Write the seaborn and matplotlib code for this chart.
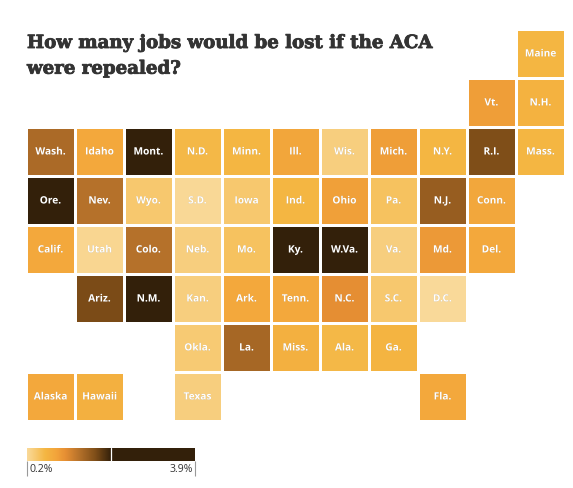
"""Tile grid map: jobs lost by state if the ACA were repealed."""

import matplotlib
matplotlib.use("Agg")
import matplotlib.patheffects as pe
import matplotlib.pyplot as plt
from matplotlib.colors import LinearSegmentedColormap
import numpy as np
import pandas as pd
import seaborn as sns

# Grid rows, north to south; None marks an empty tile
LABELS_ROWS = [
    [None, None, None, None, None, None, None, None, None, None, "Maine"],
    [None, None, None, None, None, None, None, None, None, "Vt.", "N.H."],
    ["Wash.", "Idaho", "Mont.", "N.D.", "Minn.", "Ill.", "Wis.", "Mich.", "N.Y.", "R.I.", "Mass."],
    ["Ore.", "Nev.", "Wyo.", "S.D.", "Iowa", "Ind.", "Ohio", "Pa.", "N.J.", "Conn.", None],
    ["Calif.", "Utah", "Colo.", "Neb.", "Mo.", "Ky.", "W.Va.", "Va.", "Md.", "Del.", None],
    [None, "Ariz.", "N.M.", "Kan.", "Ark.", "Tenn.", "N.C.", "S.C.", "D.C.", None, None],
    [None, None, None, "Okla.", "La.", "Miss.", "Ala.", "Ga.", None, None, None],
    ["Alaska", "Hawaii", None, "Texas", None, None, None, None, "Fla.", None, None],
]
VALUES_ROWS = [
    [None, None, None, None, None, None, None, None, None, None, 0.60],
    [None, None, None, None, None, None, None, None, None, 0.90, 0.65],
    [1.42, 0.78, 2.60, 0.58, 0.60, 0.82, 0.33, 0.90, 0.60, 1.70, 0.60],
    [3.00, 1.35, 0.40, 0.22, 0.40, 0.60, 0.88, 0.47, 1.55, 0.80, None],
    [0.78, 0.24, 1.35, 0.33, 0.47, 2.40, 3.90, 0.33, 0.95, 0.78, None],
    [None, 1.72, 2.80, 0.33, 0.78, 0.78, 1.05, 0.40, 0.20, None, None],
    [None, None, None, 0.38, 1.45, 0.68, 0.58, 0.62, None, None, None],
    [0.78, 0.68, None, 0.33, None, None, None, None, 0.78, None, None],
]
TITLE = "How many jobs would be lost if the ACA\nwere repealed?"
COLOR_VALUES = [0.2, 0.6, 0.85, 1.05, 1.35, 1.7, 2.05, 3.9]
COLOR_HEX = ["#F9D999", "#F4B642", "#F2A33A", "#E58E33", "#B5712A", "#7F4E18", "#33200A", "#33200A"]
LEGEND_TICKS = [0.2, 3.9]
LEGEND_TICK_LABELS = ["0.2%", "3.9%"]

W, H = 573, 489
PITCH = 49


def px_axes(fig, x0, y0, x1, y1):
    """Axes from pixel box, y measured from the top."""
    return fig.add_axes([x0 / W, 1 - y1 / H, (x1 - x0) / W, (y1 - y0) / H])


sns.set_theme(style="white")
plt.rcParams["font.family"] = ["Open Sans", "DejaVu Sans"]

fig = plt.figure(figsize=(W / 100, H / 100), dpi=100, facecolor="white")

valores = pd.DataFrame(VALUES_ROWS, dtype=float)
rotulos = pd.DataFrame(LABELS_ROWS).fillna("")
vmin, vmax = COLOR_VALUES[0], COLOR_VALUES[-1]
cmap = LinearSegmentedColormap.from_list(
    "aca", [((v - vmin) / (vmax - vmin), c) for v, c in zip(COLOR_VALUES, COLOR_HEX)], N=512
)

ax = px_axes(fig, 26, 30, 26 + 11 * PITCH, 30 + 8 * PITCH)
cax = px_axes(fig, 27, 449, 195, 462)

sns.heatmap(
    valores, ax=ax, cmap=cmap, vmin=vmin, vmax=vmax, mask=valores.isna(),
    annot=rotulos.values, fmt="", linewidths=0.9, linecolor="white", square=False,
    xticklabels=False, yticklabels=False, cbar_ax=cax,
    cbar_kws={"orientation": "horizontal"},
    annot_kws={"color": "white", "fontsize": 7.3, "fontweight": "bold"},
)
for texto in ax.texts:
    texto.set_path_effects([pe.withSimplePatchShadow(offset=(0, 0), shadow_rgbFace="#555555", alpha=0.35)])
    texto.set_color("white")
    texto.set_y(texto.get_position()[1] + 0.01)

# Legend
cax.set_xticks(LEGEND_TICKS)
cax.set_xticklabels([])
cax.tick_params(axis="x", length=11, width=0.8, color="#999999", bottom=True, pad=0)
cax.axvline(np.mean(COLOR_VALUES[0:1] + LEGEND_TICKS[1:]), color="white", lw=0.9)
for sp in cax.spines.values():
    sp.set_visible(False)
fig.text(30 / W, 1 - 469.5 / H, LEGEND_TICK_LABELS[0], fontsize=7.6, color="#333333", va="center", ha="left")
fig.text(193 / W, 1 - 469.5 / H, LEGEND_TICK_LABELS[1], fontsize=7.6, color="#333333", va="center", ha="right")

fig.text(
    27 / W, 1 - 35 / H, TITLE, family="DejaVu Serif", fontweight="bold", fontsize=13.1,
    color="#333333", va="top", ha="left", linespacing=1.55,
    path_effects=[pe.withStroke(linewidth=0.6, foreground="#333333")],
)

fig.savefig("out.png", dpi=100, facecolor="white")
